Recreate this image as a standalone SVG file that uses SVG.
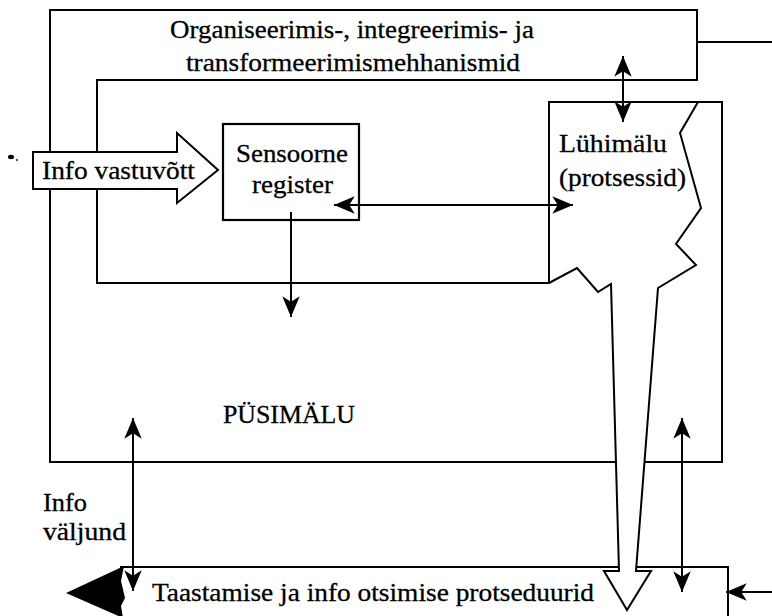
<svg xmlns="http://www.w3.org/2000/svg" width="772" height="616" viewBox="0 0 772 616">
  <style>
    .ln { fill: none; stroke: #000; stroke-width: 2; stroke-linejoin: miter; }
    .box { fill: #fff; stroke: #000; stroke-width: 2.2; }
    .con { fill: none; stroke: #000; stroke-width: 2; }
    text { font-family: "Liberation Serif", "DejaVu Serif", serif; font-size: 26px; fill: #000; stroke: #000; stroke-width: 0.3; }
  </style>
  <defs>
    <marker id="head" markerUnits="userSpaceOnUse" markerWidth="24" markerHeight="20" viewBox="-20 -9 22 18" refX="0" refY="0" orient="auto-start-reverse">
      <path d="M0,0 L-19,-8 L-14,0 L-19,8 Z" fill="#000"/>
    </marker>
  </defs>

  <rect width="772" height="616" fill="#fff"/>

  <!-- Long-term memory frame with the organising mechanisms strip and the short-term memory area -->
  <g id="pusimalu">
    <path class="ln" d="M50,10 L697,10 L697,80 L97,80 L97,283 L549,283 L549,102 L722,102 L722,462 L50,462 Z"/>
    <text x="223" y="423" textLength="132" lengthAdjust="spacingAndGlyphs" style="font-size:25px">PÜSIMÄLU</text>
  </g>

  <g id="mehhanismid">
    <text x="170" y="38" textLength="364" lengthAdjust="spacingAndGlyphs">Organiseerimis-, integreerimis- ja</text>
    <text x="186" y="71" textLength="334" lengthAdjust="spacingAndGlyphs">transformeerimismehhanismid</text>
  </g>

  <!-- Retrieval procedures box -->
  <g id="taastamine">
    <path class="ln" d="M120,567 L728,567 L728,616"/>
    <text x="152" y="601" textLength="442" lengthAdjust="spacingAndGlyphs">Taastamise ja info otsimise protseduurid</text>
  </g>

  <!-- Sensory register -->
  <g id="sensoorne">
    <rect class="box" x="223" y="124" width="136" height="96"/>
    <text x="236" y="162" textLength="112" lengthAdjust="spacingAndGlyphs">Sensoorne</text>
    <text x="252" y="193" textLength="81" lengthAdjust="spacingAndGlyphs">register</text>
  </g>

  <!-- Short-term memory with its torn edge funnelling down into retrieval -->
  <g id="luhimalu">
    <path d="M611,284 L619,571 L604,571 L627,610 L651,571 L636,571 L658,288 Z" fill="#fff" stroke="none"/>
    <path class="ln" d="M698,102 L680,133 L701,208 L676,244 L696,265 L658,288 L636,571 L651,571 L627,610 L604,571 L619,571 L611,284 L598,292 L577,268 L549,283"/>
    <text x="559" y="152" textLength="108" lengthAdjust="spacingAndGlyphs">Lühimälu</text>
    <text x="559" y="186" textLength="127" lengthAdjust="spacingAndGlyphs">(protsessid)</text>
  </g>

  <!-- Input block arrow -->
  <g id="info-vastuvott">
    <path d="M33,152 L177,152 L177,133 L218,170 L177,203 L177,189 L33,189 Z" fill="#fff" stroke="#000" stroke-width="2"/>
    <text x="42" y="179" textLength="153" lengthAdjust="spacingAndGlyphs">Info vastuvõtt</text>
    <ellipse cx="11" cy="157" rx="3" ry="2.2" fill="#000"/>
    <circle cx="17" cy="160" r="0.9" fill="#000"/>
  </g>

  <!-- Output -->
  <g id="info-valjund">
    <path d="M66,593 L124,566 L121,581 L125,598 L121,606 L123,618 Z" fill="#000"/>
    <text x="43" y="511" textLength="44" lengthAdjust="spacingAndGlyphs">Info</text>
    <text x="43" y="540" textLength="83" lengthAdjust="spacingAndGlyphs">väljund</text>
  </g>

  <!-- Connectors -->
  <g id="connectors">
    <line class="con" x1="697" y1="42" x2="772" y2="42"/>
    <line class="con" x1="623" y1="56" x2="623" y2="122" marker-start="url(#head)" marker-end="url(#head)"/>
    <line class="con" x1="334" y1="205" x2="573" y2="205" marker-start="url(#head)" marker-end="url(#head)"/>
    <line class="con" x1="291" y1="212" x2="291" y2="317" marker-end="url(#head)"/>
    <line class="con" x1="133" y1="418" x2="133" y2="591" marker-start="url(#head)" marker-end="url(#head)"/>
    <line class="con" x1="682" y1="418" x2="682" y2="592" marker-start="url(#head)" marker-end="url(#head)"/>
    <line class="con" x1="772" y1="592" x2="726" y2="592" marker-end="url(#head)"/>
  </g>
</svg>
